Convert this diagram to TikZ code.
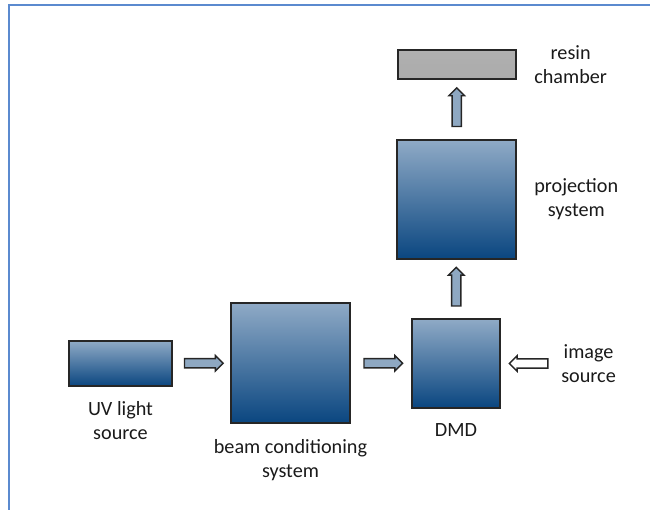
\documentclass[tikz,border=0pt]{standalone}
\usepackage{fontspec}
\setmainfont{Carlito}
\usetikzlibrary{positioning,calc,shapes.arrows,shadows}
\definecolor{frameblue}{HTML}{5B8ACF}
\definecolor{boxtop}{HTML}{8FAAC6}
\definecolor{boxbot}{HTML}{0A4680}
\definecolor{edge}{HTML}{262626}
\definecolor{arrowfill}{HTML}{8EA8C2}
\definecolor{txt}{HTML}{1A1A1A}
\tikzset{
  box/.style={draw=edge, line width=1.1pt, top color=boxtop, bottom color=boxbot, inner sep=0pt,
    drop shadow={shadow xshift=0.7pt, shadow yshift=-0.7pt, opacity=0.3}},
  greybox/.style={draw=edge, line width=1.1pt, top color=gray!62, middle color=gray!40, bottom color=gray!66, inner sep=0pt,
    drop shadow={shadow xshift=0.7pt, shadow yshift=-0.7pt, opacity=0.3}},
  blockarrow/.style={single arrow, draw=edge, fill=arrowfill, line width=0.8pt, inner sep=2.2pt,
    single arrow head extend=1.8pt, single arrow tip angle=90, minimum height=0.77cm},
  hollowarrow/.style={blockarrow, fill=white},
  lbl/.style={text=txt, align=center, inner sep=0pt, font=\fontsize{11.5}{13.6}\selectfont},
  frame/.style={draw=frameblue, line width=1.4pt}
}
\begin{document}
\begin{tikzpicture}[x=0.02cm, y=-0.02cm]
  \useasboundingbox (0,0) rectangle (650,510);
  \draw[frame] (9,510) -- (9,5) -- (650,5);

  \node[box, minimum width=2.06cm, minimum height=0.9cm] (uv) at (120.5,363.5) {};
  \node[box, minimum width=2.38cm, minimum height=2.4cm] (beam) at (290.5,363) {};
  \node[box, minimum width=1.76cm, minimum height=1.78cm] (dmd) at (456,363.5) {};
  \node[box, minimum width=2.38cm, minimum height=2.38cm] (proj) at (456.5,199.5) {};
  \node[greybox, minimum width=2.36cm, minimum height=0.58cm] (resin) at (457,64.5) {};

  \node[blockarrow] (a1) at ($(uv.east)!0.5!(beam.west)$) {};
  \node[blockarrow] (a2) at ($(beam.east)!0.5!(dmd.west)$) {};
  \node[hollowarrow, rotate=180] (a3) at ($(dmd.east)+(30,0)$) {};
  \node[blockarrow, rotate=90] (a4) at ($(dmd.north)!0.5!(proj.south)$) {};
  \node[blockarrow, rotate=90] (a5) at ($(proj.north)!0.5!(resin.south)$) {};

  \node[lbl, below=0.28cm of uv] (uvlbl) {UV light\\source};
  \node[lbl, below=0.3cm of beam] (beamlbl) {beam conditioning\\system};
  \node[lbl, below=0.28cm of dmd] (dmdlbl) {DMD};
  \node[lbl, anchor=west] (imglbl) at ($(dmd.east)+(60,0)$) {image\\source};
  \node[lbl, right=0.34cm of proj] (projlbl) {projection\\system};
  \node[lbl, right=0.34cm of resin] (resinlbl) {resin\\chamber};
\end{tikzpicture}
\end{document}
